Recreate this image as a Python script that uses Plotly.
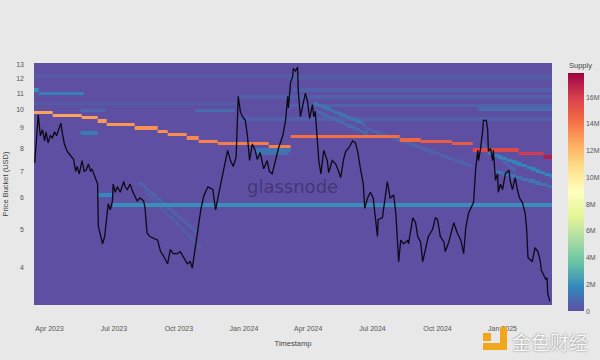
import numpy as np
import pandas as pd
import plotly.graph_objects as go

# ---------------- price line (USD) ----------------
price_dates = [
    "2023-03-11","2023-03-13","2023-03-16","2023-03-19","2023-03-22","2023-03-25","2023-03-27","2023-03-30",
    "2023-04-02","2023-04-05","2023-04-08","2023-04-11","2023-04-14","2023-04-17","2023-04-19","2023-04-22",
    "2023-04-26","2023-04-30","2023-05-05","2023-05-08","2023-05-10","2023-05-13","2023-05-17","2023-05-20",
    "2023-05-23","2023-05-26","2023-05-29","2023-05-31","2023-06-05","2023-06-08","2023-06-09","2023-06-12",
    "2023-06-15","2023-06-18","2023-06-20","2023-06-23","2023-06-26","2023-06-29","2023-06-30","2023-07-03",
    "2023-07-06","2023-07-10","2023-07-15","2023-07-17","2023-07-20","2023-07-24","2023-07-28","2023-08-03",
    "2023-08-07","2023-08-12","2023-08-14","2023-08-17","2023-08-21","2023-08-26","2023-09-01","2023-09-05",
    "2023-09-09","2023-09-15","2023-09-19","2023-09-23","2023-09-29","2023-10-03","2023-10-08","2023-10-13",
    "2023-10-17","2023-10-20","2023-10-25","2023-10-29","2023-11-01","2023-11-05","2023-11-11","2023-11-18",
    "2023-11-22","2023-11-26","2023-11-29","2023-12-03","2023-12-09","2023-12-13","2023-12-17","2023-12-21",
    "2023-12-24","2023-12-27","2023-12-30","2024-01-03","2024-01-06","2024-01-09","2024-01-13","2024-01-17",
    "2024-01-20","2024-01-24","2024-01-29","2024-02-03","2024-02-06","2024-02-10","2024-02-15","2024-02-19",
    "2024-02-25","2024-02-29","2024-03-03","2024-03-04","2024-03-07","2024-03-10","2024-03-11","2024-03-14",
    "2024-03-17","2024-03-18","2024-03-21","2024-03-25","2024-03-28","2024-03-31","2024-04-03","2024-04-07",
    "2024-04-09","2024-04-11","2024-04-14","2024-04-16","2024-04-19","2024-04-23","2024-04-28","2024-04-30",
    "2024-05-05","2024-05-10","2024-05-14","2024-05-17","2024-05-21","2024-05-24","2024-05-28","2024-06-03",
    "2024-06-07","2024-06-10","2024-06-14","2024-06-18","2024-06-20","2024-06-24","2024-06-28","2024-07-02",
    "2024-07-08","2024-07-09","2024-07-15","2024-07-22","2024-07-26","2024-07-31","2024-08-03","2024-08-07",
    "2024-08-10","2024-08-14","2024-08-20","2024-08-21","2024-08-27","2024-08-31","2024-09-03","2024-09-07",
    "2024-09-10","2024-09-14","2024-09-18","2024-09-24","2024-09-28","2024-10-01","2024-10-05","2024-10-10",
    "2024-10-12","2024-10-17","2024-10-22","2024-10-24","2024-10-29","2024-11-03","2024-11-07","2024-11-10",
    "2024-11-14","2024-11-20","2024-11-21","2024-11-24","2024-11-27","2024-11-28","2024-12-01","2024-12-04",
    "2024-12-05","2024-12-09","2024-12-11","2024-12-12","2024-12-15","2024-12-18","2024-12-19","2024-12-22",
    "2024-12-25","2024-12-26","2024-12-29","2025-01-01","2025-01-05","2025-01-10","2025-01-12","2025-01-15",
    "2025-01-19","2025-01-22","2025-01-25","2025-01-29","2025-02-02","2025-02-04","2025-02-06","2025-02-12",
    "2025-02-16","2025-02-20","2025-02-23","2025-02-25","2025-03-03","2025-03-05","2025-03-06","2025-03-09",
]
price_values = [
    7.35, 8.35, 9.7, 8.6, 8.9, 8.35, 8.8, 8.25,
    8.6, 8.5, 8.8, 8.6, 8.9, 9.25, 8.75, 8.2,
    7.85, 7.7, 7.5, 7.0, 7.2, 6.9, 7.45, 7.0,
    7.05, 7.3, 7.0, 7.1, 6.7, 6.5, 5.1, 4.8,
    4.6, 4.8, 5.2, 5.8, 5.6, 5.9, 6.5, 6.2,
    6.4, 6.2, 6.6, 6.4, 6.3, 6.5, 6.2, 5.9,
    6.0, 5.9, 5.7, 4.9, 4.8, 4.75, 4.7, 4.4,
    4.3, 4.1, 4.45, 4.35, 4.35, 4.4, 4.25, 4.1,
    4.15, 4.0, 4.6, 5.2, 5.6, 6.05, 6.4, 6.3,
    5.6, 6.1, 6.5, 7.0, 7.9, 7.45, 7.2, 7.6,
    10.8, 9.9, 9.6, 9.4, 8.6, 7.45, 8.2, 7.9,
    7.5, 7.8, 7.1, 7.45, 7.0, 6.9, 7.45, 8.0,
    8.6, 9.4, 10.8, 10.1, 11.7, 12.1, 12.7, 12.5,
    12.8, 11.1, 9.6, 10.5, 11.0, 10.5, 9.5, 10.3,
    9.6, 9.9, 8.35, 7.45, 6.9, 7.9, 7.45, 6.95,
    7.45, 7.3, 7.0, 6.75, 7.5, 7.85, 8.0, 8.35,
    8.25, 7.85, 7.1, 6.5, 5.65, 6.0, 6.2, 6.0,
    4.8, 5.3, 5.35, 6.6, 6.0, 6.1, 5.5, 4.15,
    4.7, 4.6, 4.7, 4.6, 5.35, 5.2, 4.8, 4.65,
    4.15, 4.5, 4.8, 5.0, 5.35, 5.3, 4.8, 4.65,
    4.4, 4.65, 5.05, 5.2, 4.9, 4.7, 4.35, 5.05,
    5.5, 5.8, 5.85, 7.1, 7.9, 7.45, 8.0, 8.9,
    9.4, 9.4, 8.9, 7.85, 8.0, 7.45, 7.9, 6.65,
    6.9, 6.2, 6.5, 6.3, 6.9, 7.05, 6.6, 6.3,
    6.75, 6.3, 6.0, 5.85, 5.5, 5.05, 4.25, 4.15,
    4.5, 4.4, 4.2, 3.95, 3.75, 3.78, 3.45, 3.3,
]

# ---------------- supply clusters (millions of tokens) ----------------
# each cluster: from date, to date, price at start, price at end, supply held
seg_start = [
    # main cluster
    "2023-03-10","2023-04-06","2023-05-17","2023-06-09","2023-06-22","2023-07-31","2023-09-01","2023-09-15",
    "2023-10-13","2023-10-29","2023-11-26","2024-02-06","2024-03-07","2024-08-09","2024-09-07","2024-10-22",
    "2024-11-20","2025-01-25","2025-02-28",
    # secondary clusters
    "2023-03-10","2023-03-17","2023-05-15","2023-05-15","2023-06-08","2023-06-30","2023-10-25","2024-01-15",
    "2024-01-20",
    # drifting clusters
    "2023-08-05","2023-08-12","2024-04-09","2024-04-14","2024-06-20","2024-12-03","2024-12-12","2024-12-22",
    # faint clusters
    "2023-03-10","2023-03-10","2023-12-24","2023-12-24","2024-03-01","2024-03-10","2024-03-05","2024-11-28",
]
seg_end = [
    "2023-04-06","2023-05-17","2023-06-09","2023-06-22","2023-07-31","2023-09-01","2023-09-15","2023-10-13",
    "2023-10-29","2023-11-26","2024-02-06","2024-03-07","2024-08-09","2024-09-07","2024-10-22","2024-11-20",
    "2025-01-25","2025-02-28","2025-03-13",
    "2023-03-17","2023-05-20","2023-06-08","2023-06-20","2023-06-30","2025-03-13","2023-12-20","2024-03-07",
    "2024-03-05",
    "2023-10-28","2023-11-01","2024-06-20","2024-06-24","2024-11-20","2025-01-20","2025-03-13","2025-03-13",
    "2025-03-13","2023-12-24","2025-03-13","2025-03-13","2025-03-13","2025-03-13","2025-03-13","2025-03-13",
]
seg_p0 = [
    9.86, 9.67, 9.58, 9.33, 9.19, 9.05, 8.84, 8.69,
    8.49, 8.35, 8.20, 8.11, 8.55, 8.43, 8.33, 8.22,
    7.89, 7.79, 7.58,
    11.2, 10.95, 8.7, 9.95, 6.12, 5.74, 9.9, 7.95,
    7.75,
    6.6, 6.3, 10.4, 9.9, 9.0, 8.2, 7.8, 7.0,
    12.2, 10.4, 10.8, 9.5, 10.2, 11.2, 12.0, 10.0,
]
seg_p1 = [
    9.86, 9.67, 9.58, 9.33, 9.19, 9.05, 8.84, 8.69,
    8.49, 8.35, 8.20, 8.11, 8.55, 8.43, 8.33, 8.22,
    7.89, 7.79, 7.58,
    11.2, 10.95, 8.7, 9.95, 6.12, 5.74, 9.9, 7.95,
    7.75,
    4.9, 4.5, 9.2, 8.7, 7.2, 7.0, 6.8, 6.4,
    12.2, 10.4, 10.8, 9.5, 10.2, 11.2, 12.0, 10.0,
]
seg_supply = [
    12.8, 12.8, 12.9, 13.0, 13.1, 13.2, 13.3, 13.4,
    13.5, 13.6, 13.8, 13.7, 14.2, 14.5, 14.8, 15.0,
    15.6, 16.1, 17.0,
    2.0, 1.5, 1.4, 0.8, 1.8, 2.0, 0.9, 1.2,
    1.0,
    0.7, 0.5, 1.2, 0.8, 0.6, 0.7, 1.7, 1.2,
    0.3, 0.4, 0.5, 0.5, 0.6, 0.5, 0.4, 0.9,
]

supply_ticks = [0, 2, 4, 6, 8, 10, 12, 14, 16]
supply_tick_text = ["0", "2M", "4M", "6M", "8M", "10M", "12M", "14M", "16M"]
price_ticks = [4, 5, 6, 7, 8, 9, 10, 11, 12, 13]

# ---------------- grid of price buckets x days ----------------
step = np.log10(1.01)
lo, hi = np.log10(3.2), np.log10(13.3)
edges_log = np.arange(lo, hi + step, step)
edges = 10 ** edges_log
nrows = len(edges) - 1
days = pd.date_range("2023-03-10", "2025-03-12", freq="D")
z = np.zeros((nrows, len(days)))

for s, e, p0, p1, v in zip(seg_start, seg_end, seg_p0, seg_p1, seg_supply):
    s, e = pd.Timestamp(s), pd.Timestamp(e)
    cols = np.where((days >= s) & (days < e))[0]
    span = max((e - s).days, 1)
    for c in cols:
        t = (days[c] - s).days / span
        lp = np.log10(p0) + t * (np.log10(p1) - np.log10(p0))
        f = (lp - lo) / step
        r = int(np.floor(f))
        rows = [r, r + 1] if (f - r) > 0.5 else [r - 1, r]
        for rr in rows:
            if 0 <= rr < nrows:
                z[rr, c] = max(z[rr, c], v)

fig = go.Figure()
fig.add_trace(go.Heatmap(
    x=days, y=edges, z=z,
    colorscale="Spectral_r", zmin=0, zmax=17.8,
    hoverinfo="skip",
    colorbar=dict(
        tickvals=supply_ticks, ticktext=supply_tick_text,
        thickness=16, lenmode="pixels", len=238,
        x=1.031, xanchor="left", xpad=0,
        y=-0.025, yanchor="bottom", ypad=0,
        outlinewidth=0, ticks="",
        tickfont=dict(family="Liberation Sans", size=7, color="#555555"),
    ),
))
fig.add_trace(go.Scatter(
    x=price_dates, y=price_values, mode="lines",
    line=dict(color="#0b0a16", width=1.3), hoverinfo="skip", showlegend=False,
))

L, R, T, B = 34, 48, 63, 55
W, H = 600, 360
pw, ph = W - L - R, H - T - B


def px(xp):
    return (xp - L) / pw


def py(yp):
    return (H - B - yp) / ph


fig.update_layout(
    width=W, height=H,
    margin=dict(l=L, r=R, t=T, b=B, autoexpand=False),
    paper_bgcolor="#e8e8e8", plot_bgcolor="#5e4fa2",
    showlegend=False,
    hovermode=False,
    font=dict(family="Liberation Sans", color="#555555"),
    xaxis=dict(
        type="date", range=["2023-03-10", "2025-03-12"],
        tick0="2023-01-01", dtick="M3", tickformat="%b %Y",
        showgrid=False, zeroline=False, showline=False, ticks="",
        ticklabelstandoff=18,
        tickfont=dict(size=7, color="#555555"),
        title=dict(text="Timestamp", standoff=8, font=dict(size=7.5, color="#444444")),
    ),
    yaxis=dict(
        type="log", range=[np.log10(3.23), np.log10(13.1)],
        tickvals=price_ticks, ticktext=[str(v) for v in price_ticks],
        showgrid=False, zeroline=False, showline=False, ticks="",
        ticklabelstandoff=9,
        tickfont=dict(size=7, color="#555555"),
        title=dict(text="Price Bucket (USD)", standoff=6, font=dict(size=7.5, color="#444444")),
    ),
    annotations=[
        dict(text="glassnode", xref="paper", yref="paper", x=px(292), y=py(186),
             xanchor="center", yanchor="middle", showarrow=False,
             font=dict(family="DejaVu Sans", size=18, color="rgba(25,22,50,0.42)")),
        dict(text="Supply", xref="paper", yref="paper", x=px(580), y=py(65),
             xanchor="center", yanchor="middle", showarrow=False,
             font=dict(size=7.5, color="#444444")),
        dict(text="金色财经", xref="paper", yref="paper", x=px(550), y=py(341),
             xanchor="center", yanchor="middle", showarrow=False,
             font=dict(family="Noto Sans CJK SC", size=19, color="rgba(255,255,255,0.95)",
                       shadow="0px 0px 2px rgba(0,0,0,0.55)")),
    ],
    shapes=[
        dict(type="rect", xref="paper", yref="paper", x0=px(500), x1=px(507), y0=py(350), y1=py(327),
             fillcolor="#f2a61c", line=dict(width=0)),
        dict(type="rect", xref="paper", yref="paper", x0=px(483), x1=px(507), y0=py(350), y1=py(343),
             fillcolor="#f2a61c", line=dict(width=0)),
        dict(type="rect", xref="paper", yref="paper", x0=px(483), x1=px(491), y0=py(341), y1=py(333),
             fillcolor="#f2a61c", line=dict(width=0)),
    ],
)

fig.write_html("out.html", config={"displayModeBar": False},
               post_script="document.body.style.margin='0px';")
